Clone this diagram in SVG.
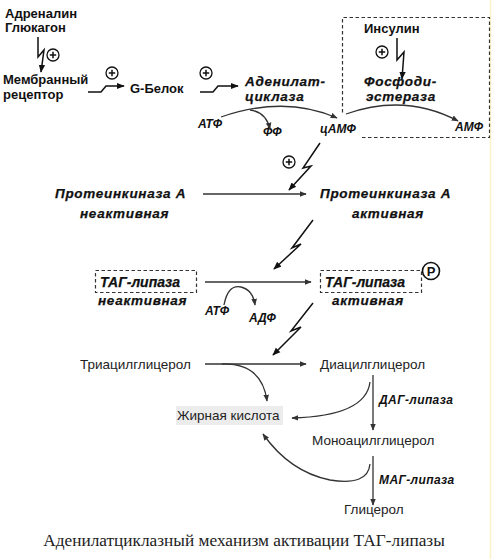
<svg xmlns="http://www.w3.org/2000/svg" width="497" height="559" viewBox="0 0 497 559">
<defs>
<marker id="ah" viewBox="0 0 10 10" refX="9" refY="5" markerWidth="7" markerHeight="7" orient="auto" markerUnits="userSpaceOnUse">
<path d="M0,1 L10,5 L0,9 Z" fill="#333"/>
</marker>
<marker id="ahb" viewBox="0 0 10 10" refX="9" refY="5" markerWidth="8" markerHeight="8" orient="auto" markerUnits="userSpaceOnUse">
<path d="M0,1 L10,5 L0,9 Z" fill="#111"/>
</marker>
<g id="plus">
<circle cx="0" cy="0" r="6" fill="#fff" stroke="#111" stroke-width="1.3"/>
<path d="M-3.2,0 H3.2 M0,-3.2 V3.2" stroke="#111" stroke-width="1.5"/>
</g>
</defs>
<style>
.b{font-family:"Liberation Sans",Arial,sans-serif;font-weight:bold;font-size:13px;fill:#111}
.bi{font-family:"Liberation Sans",Arial,sans-serif;font-weight:bold;font-style:italic;font-size:13.5px;letter-spacing:0.7px;fill:#111;stroke:#111;stroke-width:0.25}
.bt{font-family:"Liberation Sans",Arial,sans-serif;font-weight:bold;font-style:italic;font-size:14px;fill:#111;stroke:#111;stroke-width:0.25}
.bis{font-family:"Liberation Sans",Arial,sans-serif;font-weight:bold;font-style:italic;font-size:12px;fill:#111}
.r{font-family:"Liberation Sans",Arial,sans-serif;font-size:13.5px;fill:#222}
.cap{font-family:"Liberation Serif","Times New Roman",serif;font-size:17.3px;fill:#222}
.ln{fill:none;stroke:#333;stroke-width:1.3}
.zz{fill:none;stroke:#111;stroke-width:1.5}
.dash{fill:none;stroke:#333;stroke-width:1.2;stroke-dasharray:3.5,2.5}
</style>
<rect width="497" height="559" fill="#fff"/>
<line x1="490.5" y1="0" x2="490.5" y2="559" stroke="#fbf3c8" stroke-width="1.5"/>

<g id="adrenalin"><text class="b" x="5" y="18">Адреналин</text><text class="b" x="5" y="32">Глюкагон</text></g>
<g id="receptor"><text class="b" x="3" y="84">Мембранный</text><text class="b" x="3" y="99">рецептор</text></g>
<g id="gprotein"><text class="b" x="130" y="93">G-Белок</text></g>
<g id="adenylatecyclase"><text class="bi" x="245" y="86">Аденилат-</text><text class="bi" x="245" y="101">циклаза</text></g>
<g id="insulin"><text class="b" x="364" y="33">Инсулин</text></g>
<g id="pde"><text class="bi" x="364" y="86">Фосфоди-</text><text class="bi" x="366" y="101">эстераза</text></g>
<g id="atp1"><text class="bis" x="198" y="128">АТФ</text></g>
<g id="pp"><text class="bis" x="263" y="136">ФФ</text></g>
<g id="camp"><text class="bis" x="320" y="133">цАМФ</text></g>
<g id="amp"><text class="bis" x="455" y="131">АМФ</text></g>
<g id="pka-in"><text class="bi" x="55" y="198">Протеинкиназа А</text><text class="bi" x="80" y="218">неактивная</text></g>
<g id="pka-act"><text class="bi" x="320" y="198">Протеинкиназа А</text><text class="bi" x="352" y="218">активная</text></g>
<g id="tag-in"><rect class="dash" x="95.5" y="270.5" width="101" height="22"/><text class="bt" x="100" y="287">ТАГ-липаза</text><text class="bi" x="98" y="305" letter-spacing="0.4">неактивная</text></g>
<g id="tag-act"><rect class="dash" x="320.5" y="270.5" width="101" height="22"/><text class="bt" x="325" y="287">ТАГ-липаза</text><text class="bi" x="332" y="305" letter-spacing="0.4">активная</text>
<circle cx="431" cy="271" r="8.5" fill="#fff" stroke="#111" stroke-width="1.6"/><text class="b" x="431" y="276" text-anchor="middle" font-size="13">P</text></g>
<g id="atp2"><text class="bis" x="205" y="315">АТФ</text></g>
<g id="adp"><text class="bis" x="249" y="322">АДФ</text></g>
<g id="tag"><text class="r" x="80" y="369">Триацилглицерол</text></g>
<g id="dag"><text class="r" x="320" y="369">Диацилглицерол</text></g>
<g id="fa"><rect x="176" y="406" width="107" height="19" fill="#ececec"/><text class="r" x="177" y="420">Жирная кислота</text></g>
<g id="dag-lipase"><text class="bis" x="379" y="404" font-size="13" letter-spacing="0.4">ДАГ-липаза</text></g>
<g id="mag"><text class="r" x="312" y="445">Моноацилглицерол</text></g>
<g id="mag-lipase"><text class="bis" x="379" y="484" font-size="13" letter-spacing="0.4">МАГ-липаза</text></g>
<g id="glycerol"><text class="r" x="344" y="514">Глицерол</text></g>
<g id="insulin-box"><path class="dash" d="M362,137.5 H489.5 V17.5 H342.5 V114"/></g>

<g id="connectors">
<path class="zz" d="M38,37 V57 L44,50 L41,72" marker-end="url(#ahb)"/>
<use href="#plus" x="53" y="55"/>
<path class="zz" d="M88,92 H101 L106,86 H124" marker-end="url(#ahb)"/>
<use href="#plus" x="112" y="73"/>
<path class="zz" d="M200,92 H213 L218,86 H238" marker-end="url(#ahb)"/>
<use href="#plus" x="206" y="73"/>
<path class="zz" d="M397,38 V60 L404,52 L402,79" marker-end="url(#ahb)"/>
<use href="#plus" x="382" y="52"/>
<path class="ln" d="M221,117 Q285,95 337,118" marker-end="url(#ah)"/>
<path class="ln" d="M250,110 Q266,112 270,129" marker-end="url(#ah)"/>
<path class="ln" d="M346,114 Q405,93 458,121" marker-end="url(#ah)"/>
<path class="zz" d="M320,143 L303,168 L311,166 L289,190" marker-end="url(#ahb)"/>
<use href="#plus" x="289" y="162"/>
<line class="ln" x1="203" y1="194" x2="306" y2="194" marker-end="url(#ah)"/>
<path class="zz" d="M313,220 L292,248 L301,244 L274,269" marker-end="url(#ahb)"/>
<line class="ln" x1="205" y1="282" x2="311" y2="282" marker-end="url(#ah)"/>
<path class="ln" d="M224,305 Q228,284 241,287 Q253,290 255,305" marker-end="url(#ah)"/>
<path class="zz" d="M313,303 L291,331 L301,327 L273,355" marker-end="url(#ahb)"/>
<line class="ln" x1="205" y1="364" x2="306" y2="364" marker-end="url(#ah)"/>
<path class="ln" d="M222,364 Q262,363 267,401" marker-end="url(#ah)"/>
<line class="ln" x1="373" y1="375" x2="373" y2="430" marker-end="url(#ah)"/>
<path class="ln" d="M370,382 Q366,416 292,418" marker-end="url(#ah)"/>
<line class="ln" x1="373" y1="456" x2="373" y2="505" marker-end="url(#ah)"/>
<path class="ln" d="M370,464 Q368,486 330,480 Q290,472 263,434" marker-end="url(#ah)"/>
</g>
<text class="cap" x="244" y="546" text-anchor="middle">Аденилатциклазный механизм активации ТАГ-липазы</text>
</svg>
